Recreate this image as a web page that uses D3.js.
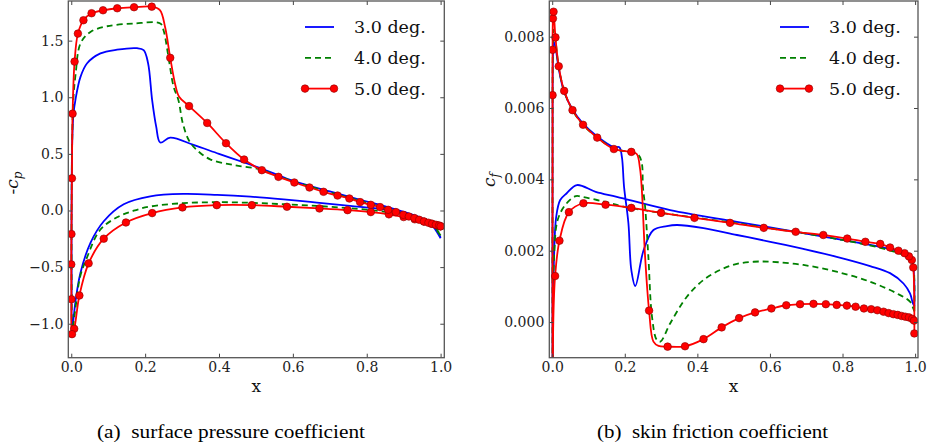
<!DOCTYPE html>
<html>
<head>
  <meta charset="utf-8">
  <title>airfoil cp and cf</title>
  <script src="https://d3js.org/d3.v7.min.js"></script>
  <style>
    body { margin: 0; background: #fff; }
  </style>
</head>
<body>
<script>

var xTicks = [0, 0.2, 0.4, 0.6, 0.8, 1.0];
var cpTicks = [-1.0, -0.5, 0.0, 0.5, 1.0, 1.5];
var cfTicks = [0, 0.002, 0.004, 0.006, 0.008];
var labels = ["3.0 deg.", "4.0 deg.", "5.0 deg."];

// -cp, path goes lower surface TE -> LE -> upper surface TE
var cp3 = [[1.0,-0.245],[0.99,-0.19],[0.98,-0.145],[0.96,-0.10],[0.935,-0.06],[0.9,-0.027],[0.845,0.010],[0.755,0.041],[0.665,0.070],[0.575,0.098],[0.485,0.122],[0.395,0.138],[0.304,0.146],[0.214,0.125],[0.142,0.055],[0.088,-0.095],[0.052,-0.285],[0.025,-0.55],[0.012,-0.79],[0.005,-0.98],[0.002,-1.03],[0.001,-0.6],[0.001,0.2],[0.003,0.65],[0.006,0.85],[0.012,0.99],[0.025,1.18],[0.043,1.30],[0.079,1.387],[0.124,1.42],[0.178,1.433],[0.196,1.416],[0.208,1.30],[0.219,0.975],[0.23,0.74],[0.241,0.60],[0.268,0.643],[0.331,0.579],[0.40,0.50],[0.476,0.415],[0.516,0.368],[0.55,0.325],[0.60,0.262],[0.70,0.168],[0.78,0.097],[0.85,0.037],[0.90,-0.012],[0.95,-0.068],[0.98,-0.13],[1.0,-0.24]];

var cp4 = [[1.0,-0.22],[0.98,-0.14],[0.96,-0.1],[0.935,-0.07],[0.9,-0.045],[0.845,-0.01],[0.755,0.02],[0.665,0.04],[0.575,0.055],[0.485,0.068],[0.395,0.073],[0.304,0.065],[0.214,0.035],[0.169,-0.002],[0.124,-0.06],[0.078,-0.172],[0.042,-0.42],[0.024,-0.585],[0.01,-0.9],[0.003,-1.06],[0.001,-0.7],[0.001,0.1],[0.003,0.7],[0.006,1.0],[0.012,1.21],[0.025,1.475],[0.052,1.577],[0.097,1.627],[0.169,1.651],[0.241,1.651],[0.25,1.59],[0.263,1.359],[0.277,1.094],[0.290,0.976],[0.302,0.77],[0.318,0.623],[0.340,0.534],[0.376,0.452],[0.439,0.402],[0.511,0.364],[0.55,0.315],[0.6,0.258],[0.7,0.16],[0.8,0.068],[0.9,-0.028],[0.95,-0.08],[0.98,-0.13],[1.0,-0.22]];

// third value: 1 = sample shown with a marker
var cp5 = [[1.0,-0.14,1],[0.99,-0.13,1],[0.975,-0.117,1],[0.955,-0.098,1],[0.93,-0.078,1],[0.90,-0.058,1],[0.86,-0.034,1],[0.811,-0.014,1],[0.748,0.003,1],[0.672,0.018,1],[0.584,0.033,1],[0.489,0.047,1],[0.394,0.047,1],[0.301,0.027,1],[0.219,-0.023,1],[0.148,-0.106,1],[0.088,-0.249,1],[0.047,-0.467,1],[0.022,-0.751,1],[0.008,-1.045,1],[0.002,-1.092,1],[0.0005,-0.784,1],[0.0,-0.476,1],[0.0005,-0.208,1],[0.0018,0.284,1],[0.0036,0.855,1],[0.009,1.315,1],[0.018,1.562,1],[0.033,1.68,1],[0.055,1.742,1],[0.086,1.768,1],[0.1245,1.786,1],[0.170,1.795,1],[0.218,1.80,1],[0.24,1.77,0],[0.254,1.62,0],[0.268,1.348,1],[0.281,1.12,0],[0.292,1.005,0],[0.319,0.922,1],[0.368,0.773,1],[0.419,0.594,1],[0.468,0.45,1],[0.516,0.356,1],[0.561,0.297,1],[0.604,0.247,1],[0.645,0.203,1],[0.683,0.165,1],[0.721,0.132,1],[0.753,0.106,1],[0.782,0.074,1],[0.811,0.05,1],[0.836,0.03,1],[0.858,0.006,1],[0.879,-0.014,1],[0.899,-0.038,1],[0.914,-0.053,1],[0.929,-0.067,1],[0.942,-0.082,1],[0.955,-0.097,1],[0.967,-0.108,1],[0.977,-0.117,1],[0.987,-0.126,1],[0.996,-0.132,1],[1.0,-0.14,1]];

// cf, path goes lower surface TE -> LE -> upper surface TE
var cf3 = [[0.998,0.00045],[0.997,0.0013],[0.991,0.00172],[0.968,0.00193],[0.876,0.00216],[0.692,0.00249],[0.509,0.00281],[0.325,0.00314],[0.178,0.00351],[0.12,0.00365],[0.068,0.00384],[0.040,0.00361],[0.022,0.00342],[0.011,0.00295],[0.005,0.0018],[0.002,0.0],[0.001,-0.003],[0.001,0.005],[0.002,0.0074],[0.004,0.00786],[0.009,0.0077],[0.018,0.0071],[0.033,0.00645],[0.056,0.00596],[0.085,0.00556],[0.124,0.0052],[0.170,0.0049],[0.185,0.0049],[0.192,0.00463],[0.198,0.00379],[0.210,0.00277],[0.218,0.00146],[0.229,0.00101],[0.252,0.00202],[0.279,0.00258],[0.316,0.00269],[0.344,0.00272],[0.417,0.00263],[0.509,0.00244],[0.601,0.00225],[0.692,0.00205],[0.784,0.00183],[0.876,0.00157],[0.931,0.00137],[0.968,0.00108],[0.986,0.0008],[0.994,0.00052],[0.998,0.00045]];

var cf4 = [[0.998,0.0003],[0.996,0.0015],[0.99,0.0017],[0.97,0.00187],[0.95,0.00195],[0.9,0.00209],[0.8,0.0023],[0.7,0.00248],[0.6,0.00263],[0.5,0.00278],[0.4,0.00292],[0.3,0.00306],[0.2,0.00323],[0.141,0.00338],[0.086,0.0035],[0.065,0.00353],[0.036,0.00328],[0.015,0.00286],[0.006,0.002],[0.002,0.0],[0.001,-0.003],[0.001,0.005],[0.002,0.0078],[0.004,0.0082],[0.009,0.0079],[0.018,0.00715],[0.033,0.00647],[0.056,0.00594],[0.085,0.00553],[0.124,0.00518],[0.170,0.00486],[0.218,0.00476],[0.238,0.00468],[0.247,0.00445],[0.250,0.00379],[0.256,0.00323],[0.265,0.00183],[0.275,0.00015],[0.288,-0.0005],[0.298,-0.00055],[0.325,-0.00004],[0.371,0.00071],[0.417,0.00118],[0.463,0.00146],[0.509,0.00163],[0.555,0.00169],[0.601,0.00169],[0.692,0.0016],[0.784,0.00141],[0.876,0.00113],[0.950,0.0008],[0.986,0.00057],[0.995,0.00038],[0.998,0.0003]];

var cf5 = [[0.998,-0.00032,1],[0.995,0.00153,1],[0.991,0.00174,1],[0.983,0.00184,1],[0.971,0.00193,1],[0.954,0.002,1],[0.931,0.00209,1],[0.904,0.00219,1],[0.863,0.00225,1],[0.813,0.00234,1],[0.747,0.00244,1],[0.671,0.00253,1],[0.583,0.00264,1],[0.490,0.00278,1],[0.392,0.00292,1],[0.300,0.00306,1],[0.218,0.0032,1],[0.147,0.00329,1],[0.086,0.00333,1],[0.046,0.00308,1],[0.020,0.00228,1],[0.008,0.00129,1],[0.003,0.0,0],[0.0012,-0.003,0],[0.001,0.00636,1],[0.001,0.00763,1],[0.002,0.00851,1],[0.0037,0.0087,1],[0.009,0.00798,1],[0.018,0.00717,1],[0.033,0.00648,1],[0.056,0.00594,1],[0.085,0.00553,1],[0.124,0.00517,1],[0.170,0.00485,1],[0.218,0.00477,1],[0.233,0.00471,0],[0.242,0.0043,0],[0.247,0.0037,0],[0.256,0.00183,0],[0.267,0.00032,1],[0.279,-0.00055,0],[0.293,-0.00067,0],[0.318,-0.00069,1],[0.366,-0.00068,1],[0.417,-0.00048,1],[0.467,-0.00015,1],[0.515,0.00011,1],[0.559,0.00027,1],[0.604,0.00038,1],[0.645,0.00047,1],[0.683,0.0005,1],[0.720,0.00051,1],[0.754,0.0005,1],[0.784,0.00048,1],[0.812,0.00046,1],[0.836,0.00043,1],[0.859,0.00038,1],[0.879,0.00036,1],[0.896,0.00033,1],[0.913,0.00029,1],[0.927,0.00025,1],[0.940,0.00022,1],[0.952,0.0002,1],[0.963,0.00017,1],[0.973,0.00015,1],[0.983,0.00013,1],[0.992,0.00009,1],[0.997,0.00004,1]];

var colors = ["#0000ff", "#008000", "#ff0000"];
var serif = "DejaVu Serif, serif";

var svg = d3.select("body").append("svg")
    .attr("width", 927)
    .attr("height", 448);

var panels = [
  {id: "a", left: 68.3, right: 444.3, top: 1, bottom: 357.7,
   xDomain: [-0.008, 1.01], yDomain: [-1.3, 1.85], yTicks: cpTicks, yFmt: d3.format(".1f"),
   series: [cp3, cp4, cp5], legendX: 305, labelX: 13, labelY: 183,
   caption: "(a)\u2002surface pressure coefficient", capX: 97, capW: 268},
  {id: "b", left: 549.3, right: 918, top: 1, bottom: 357.7,
   xDomain: [-0.008, 1.008], yDomain: [-0.001, 0.009], yTicks: cfTicks, yFmt: d3.format(".3f"),
   series: [cf3, cf4, cf5], legendX: 780, labelX: 490, labelY: 180,
   caption: "(b)\u2002skin friction coefficient", capX: 597, capW: 231}
];

panels.forEach(function(p) {
  var x = d3.scaleLinear().domain(p.xDomain).range([p.left, p.right]);
  var y = d3.scaleLinear().domain(p.yDomain).range([p.bottom, p.top]);

  var g = svg.append("g");

  g.append("clipPath").attr("id", "clip-" + p.id)
    .append("rect")
    .attr("x", p.left).attr("y", p.top)
    .attr("width", p.right - p.left).attr("height", p.bottom - p.top);

  var plot = g.append("g").attr("clip-path", "url(#clip-" + p.id + ")");

  var line = d3.line()
      .curve(d3.curveCatmullRom.alpha(0.5))
      .x(function(d) { return x(d[0]); })
      .y(function(d) { return y(d[1]); });

  p.series.forEach(function(s, i) {
    plot.append("path")
        .attr("d", line(s))
        .attr("fill", "none")
        .attr("stroke", colors[i])
        .attr("stroke-width", 1.8)
        .attr("stroke-dasharray", i == 1 ? "6,4" : null);
  });

  plot.selectAll(".mk")
    .data(p.series[2].filter(function(d) { return d[2] == 1; }))
    .enter().append("circle")
      .attr("cx", function(d) { return x(d[0]); })
      .attr("cy", function(d) { return y(d[1]); })
      .attr("r", 3.8)
      .attr("fill", "#ff0000")
      .attr("stroke", "#8a0000")
      .attr("stroke-width", 0.6);

  // axes, ticks pointing inward on all sides
  var axes = [
    g.append("g").attr("transform", "translate(0," + p.bottom + ")")
      .call(d3.axisBottom(x).tickValues(xTicks).tickFormat(d3.format(".1f")).tickSize(-4).tickPadding(4)),
    g.append("g").attr("transform", "translate(0," + p.top + ")")
      .call(d3.axisTop(x).tickValues(xTicks).tickFormat("").tickSize(-4)),
    g.append("g").attr("transform", "translate(" + p.left + ",0)")
      .call(d3.axisLeft(y).tickValues(p.yTicks).tickFormat(p.yFmt).tickSize(-4).tickPadding(5)),
    g.append("g").attr("transform", "translate(" + p.right + ",0)")
      .call(d3.axisRight(y).tickValues(p.yTicks).tickFormat("").tickSize(-4))
  ];
  axes.forEach(function(a) {
    a.select(".domain").remove();
    a.attr("font-family", serif).attr("font-size", 14).attr("color", "#444");
    a.selectAll("text").attr("fill", "#222");
  });

  g.append("rect")
    .attr("x", p.left).attr("y", p.top)
    .attr("width", p.right - p.left).attr("height", p.bottom - p.top)
    .attr("fill", "none")
    .attr("stroke", "#555")
    .attr("stroke-width", 1.3);

  // axis labels
  g.append("text")
    .attr("x", (p.left + p.right) / 2)
    .attr("y", 392)
    .attr("text-anchor", "middle")
    .attr("font-family", serif)
    .attr("font-size", 17)
    .attr("fill", "#111")
    .text("x");

  var yl = g.append("text")
    .attr("transform", "translate(" + p.labelX + "," + p.labelY + ") rotate(-90)")
    .attr("text-anchor", "middle")
    .attr("dy", "0.3em")
    .attr("font-family", serif)
    .attr("font-size", 17)
    .attr("fill", "#111");
  if (p.id == "a") yl.append("tspan").text("-");
  yl.append("tspan").attr("font-style", "italic").text("c");
  yl.append("tspan").attr("font-style", "italic").attr("font-size", 12)
    .attr("dy", "0.35em").text(p.id == "a" ? "p" : "f");

  // legend
  var leg = g.append("g");
  labels.forEach(function(t, i) {
    var ry = 27 + i * 30.8;
    leg.append("line")
      .attr("x1", p.legendX).attr("x2", p.legendX + 29)
      .attr("y1", ry).attr("y2", ry)
      .attr("stroke", colors[i])
      .attr("stroke-width", 1.8)
      .attr("stroke-dasharray", i == 1 ? "6,4" : null);
    if (i == 2) {
      [p.legendX, p.legendX + 29].forEach(function(cx) {
        leg.append("circle").attr("cx", cx).attr("cy", ry).attr("r", 3.8)
          .attr("fill", "#ff0000").attr("stroke", "#8a0000").attr("stroke-width", 0.6);
      });
    }
    leg.append("text")
      .attr("x", p.legendX + 49)
      .attr("y", ry)
      .attr("dy", "0.35em")
      .attr("font-family", serif)
      .attr("font-size", 17.5)
      .attr("fill", "#111")
      .text(t);
  });

  // caption
  svg.append("text")
    .attr("x", p.capX)
    .attr("y", 438)
    .attr("font-family", "Liberation Serif, Times New Roman, serif")
    .attr("font-size", 19)
    .attr("fill", "#000")
    .attr("textLength", p.capW)
    .attr("lengthAdjust", "spacingAndGlyphs")
    .text(p.caption);
});

</script>
</body>
</html>
